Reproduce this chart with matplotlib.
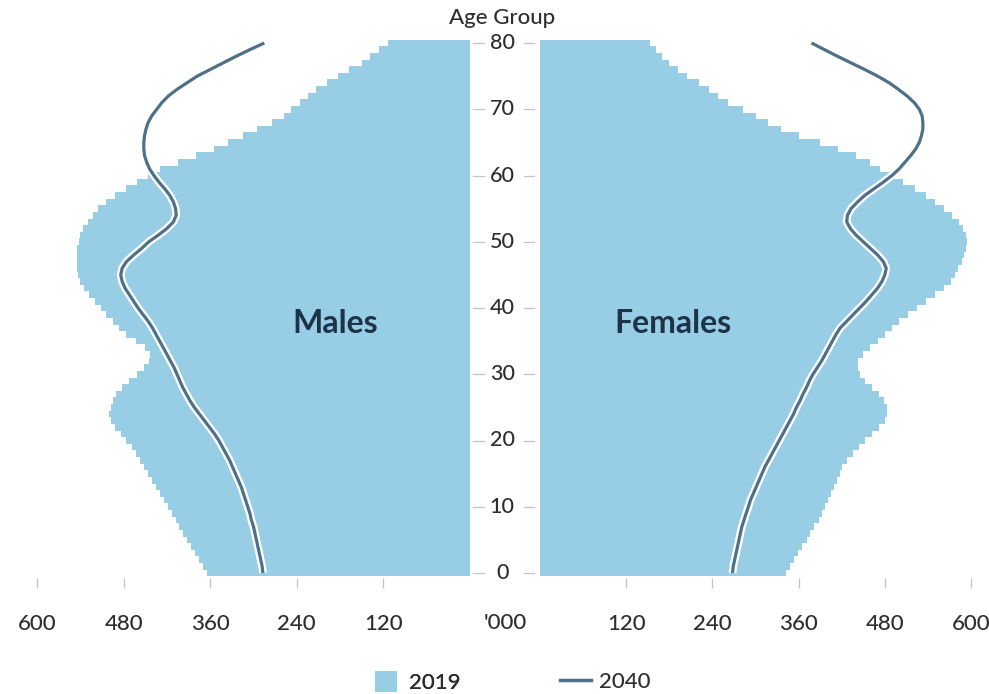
import matplotlib
matplotlib.use("Agg")
import matplotlib.pyplot as plt
import matplotlib.patheffects as pe
from matplotlib.patches import Patch
from matplotlib.lines import Line2D

plt.rcParams['font.family'] = ['Lato', 'DejaVu Sans']

ages = list(range(0, 81))

males_2019 = [365, 370, 376, 381, 386, 392, 397, 403, 408, 413,
              418, 424, 430, 435, 440, 446, 452, 457, 463, 469,
              476, 484, 492, 498, 500, 498, 494, 490, 482, 472,
              462, 452, 445, 444, 450, 463, 476, 486, 495, 504,
              512, 520, 528, 535, 540, 543, 544, 545, 545, 544,
              542, 540, 536, 530, 523, 515, 505, 492, 477, 461,
              446, 430, 405, 380, 355, 335, 315, 295, 275, 258,
              248, 235, 225, 214, 198, 183, 167, 150, 138, 126, 114]

females_2019 = [343, 348, 354, 359, 365, 371, 376, 382, 388, 393,
                397, 401, 405, 409, 413, 417, 421, 428, 436, 444,
                452, 462, 472, 480, 483, 483, 479, 472, 462, 452,
                445, 442, 443, 449, 460, 470, 480, 490, 500, 512,
                525, 537, 550, 562, 572, 578, 582, 587, 590, 593,
                594, 593, 589, 583, 574, 563, 550, 538, 522, 506,
                490, 474, 460, 440, 415, 390, 360, 335, 318, 300,
                282, 262, 248, 235, 222, 205, 192, 180, 170, 161, 153]

males_2040 = [287, 288, 290, 292, 294, 296, 298, 300, 303, 305,
              308, 311, 314, 317, 321, 325, 329, 333, 338, 343,
              348, 354, 361, 368, 375, 382, 388, 393, 398, 402,
              406, 410, 415, 420, 425, 430, 435, 440, 446, 453,
              460, 466, 472, 478, 482, 484, 482, 476, 466, 455,
              445, 432, 420, 411, 407, 408, 411, 416, 423, 431,
              438, 444, 448, 451, 452, 452, 451, 449, 446, 441,
              434, 427, 418, 406, 392, 378, 360, 342, 324, 305, 285]

females_2040 = [268, 269, 271, 273, 275, 277, 279, 281, 284, 287,
                290, 293, 297, 301, 305, 309, 313, 318, 323, 328,
                333, 338, 343, 348, 353, 357, 362, 366, 371, 375,
                380, 386, 392, 397, 402, 407, 412, 418, 427, 436,
                445, 454, 462, 470, 476, 480, 482, 478, 470, 460,
                450, 440, 432, 427, 428, 433, 442, 452, 465, 478,
                490, 500, 508, 516, 523, 528, 531, 533, 533, 532,
                528, 521, 511, 499, 486, 470, 452, 433, 414, 396, 378]

x_ticks = [600, 480, 360, 240, 120]
age_ticks = [0, 10, 20, 30, 40, 50, 60, 70, 80]

BAR = '#98cde6'
LINE = '#4e7088'
TXT = '#2e2e2e'
FW = 'medium'
FS = 16

W, H = 989, 694
fig = plt.figure(figsize=(W / 100, H / 100), dpi=100)

y0_px, y80_px = 573.0, 43.0
ppy = (y0_px - y80_px) / 80.0
ylo, yhi = -0.8, 80.5
bot_px = y0_px - ylo * ppy
top_px = y0_px - yhi * ppy
fb = (H - bot_px) / H
fh = (bot_px - top_px) / H

axL = fig.add_axes([37 / W, fb, (470 - 37) / W, fh])
axR = fig.add_axes([540 / W, fb, (971 - 540) / W, fh])
axM = fig.add_axes([470 / W, fb, 70 / W, fh])

halo = [pe.Stroke(linewidth=5.6, foreground='white'), pe.Normal()]

for ax, bars, line in ((axL, males_2019, males_2040), (axR, females_2019, females_2040)):
    ax.barh(ages, bars, height=1.0, color=BAR, linewidth=0)
    ax.plot(line, ages, color=LINE, linewidth=2.3, path_effects=halo,
            solid_capstyle='butt', solid_joinstyle='round')
    ax.set_ylim(ylo, yhi)
    ax.set_xlim(0, 600)
    for s in ax.spines.values():
        s.set_visible(False)
    ax.set_yticks([])
    ax.set_xticks(x_ticks)
    ax.set_xticklabels([str(v) for v in x_ticks], fontweight=FW)
    ax.tick_params(axis='x', length=7.5, width=0.9, color='#c4c4c4',
                   labelsize=FS, labelcolor=TXT, pad=18)
    ax.patch.set_alpha(0)

axL.invert_xaxis()

axM.set_xlim(0, 1)
axM.set_ylim(ylo, yhi)
axM.axis('off')
for a in age_ticks:
    axM.text(0.46, a, str(a), ha='center', va='center', fontsize=FS - 0.5,
             color=TXT, fontweight=FW)
    axM.plot([0.04, 0.20], [a, a], color='#c4c4c4', linewidth=0.9)
    axM.plot([0.77, 0.91], [a, a], color='#c4c4c4', linewidth=0.9)

fig.text(505 / W, 1 - 629 / H, "'000", ha='center', va='baseline', fontsize=FS,
         color=TXT, fontweight=FW)
fig.text(502 / W, 1 - 18 / H, 'Age Group', ha='center', va='center', fontsize=FS,
         color=TXT, fontweight=FW)

axL.text(187, 37.6, 'Males', ha='center', va='center', fontsize=23,
         fontweight='bold', color='#1d3347')
axR.text(185, 37.6, 'Females', ha='center', va='center', fontsize=23,
         fontweight='bold', color='#1d3347')

leg1 = fig.legend(handles=[Patch(facecolor=BAR, edgecolor='none', label='2019')],
                  loc='center', bbox_to_anchor=(418 / W, 1 - 682 / H), frameon=False,
                  handlelength=1.0, handleheight=1.1, handletextpad=0.55,
                  borderpad=0, labelcolor=TXT, prop={'weight': FW, 'size': FS})
leg2 = fig.legend(handles=[Line2D([], [], color=LINE, linewidth=2.5, label='2040')],
                  loc='center', bbox_to_anchor=(605 / W, 1 - 682 / H), frameon=False,
                  handlelength=1.4, handletextpad=0.35,
                  borderpad=0, labelcolor=TXT, prop={'weight': FW, 'size': FS})
fig.add_artist(leg1)

fig.savefig('out.png', dpi=100)
